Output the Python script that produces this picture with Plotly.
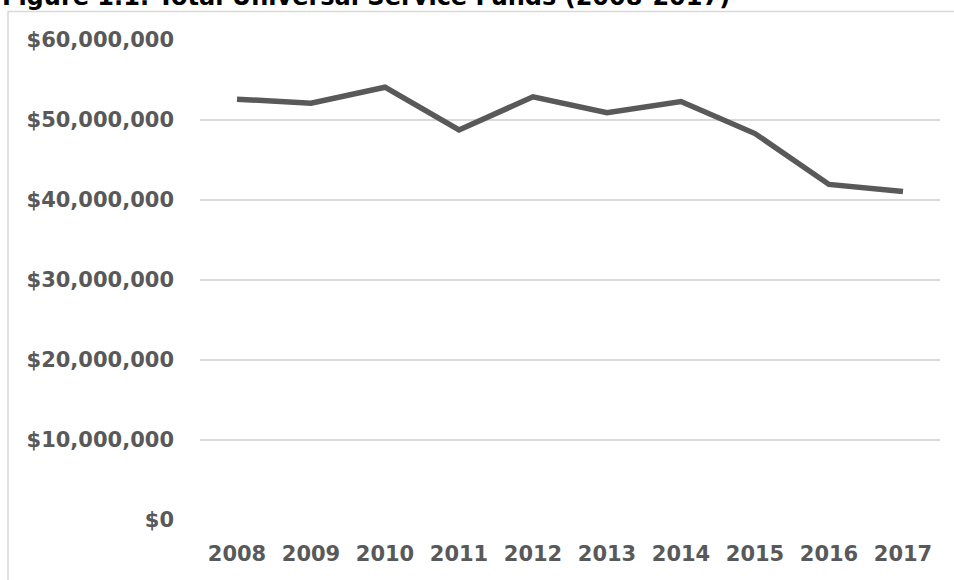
import plotly.graph_objects as go

years = ["2008", "2009", "2010", "2011", "2012", "2013", "2014", "2015", "2016", "2017"]
funds = [52_600_000, 52_100_000, 54_100_000, 48_750_000, 52_900_000,
         50_900_000, 52_300_000, 48_300_000, 41_950_000, 41_050_000]
y_ticks = [0, 10_000_000, 20_000_000, 30_000_000, 40_000_000, 50_000_000, 60_000_000]
title_text = "Figure 1.1: Total Universal Service Funds (2008-2017)"

W, H = 954, 580
L, R, T, B = 200, 14, 40, 60
pw, ph = W - L - R, H - T - B

def px_x(p):
    return (p - L) / pw

def px_y(p):
    return 1 - (p - T) / ph

fig = go.Figure()
fig.add_trace(go.Scatter(
    x=years, y=funds, mode="lines",
    line=dict(color="#595959", width=5.5, shape="linear"),
    hoverinfo="x+y",
))

font_family = "'DejaVu Sans', sans-serif"

fig.update_layout(
    width=W, height=H,
    margin=dict(l=L, r=R, t=T, b=B),
    paper_bgcolor="white", plot_bgcolor="white",
    showlegend=False,
    xaxis=dict(
        type="category", range=[-0.5, 9.5],
        showgrid=False, zeroline=False, showline=False,
        ticks="", tickfont=dict(family=font_family, size=21, color="#595959", weight="bold"),
        ticklabelstandoff=19,
    ),
    yaxis=dict(
        range=[0, 60_000_000], tickvals=y_ticks, tickformat="$,.0f",
        showgrid=True, gridcolor="#d9d9d9", gridwidth=1.5,
        zeroline=False, showline=False, ticks="",
        tickfont=dict(family=font_family, size=21, color="#595959", weight="bold"),
        ticklabelstandoff=25,
    ),
    shapes=[dict(
        type="rect", xref="paper", yref="paper",
        x0=px_x(8), x1=px_x(980), y0=px_y(600), y1=px_y(11.5),
        line=dict(color="#d9d9d9", width=1.5), fillcolor="rgba(0,0,0,0)", layer="below",
    )],
    annotations=[dict(
        text=title_text, xref="paper", yref="paper",
        x=px_x(0), y=px_y(13), xanchor="left", yanchor="bottom",
        showarrow=False,
        font=dict(family=font_family, size=24, color="#000000", weight="bold"),
    )],
)

fig.write_html("out.html")
